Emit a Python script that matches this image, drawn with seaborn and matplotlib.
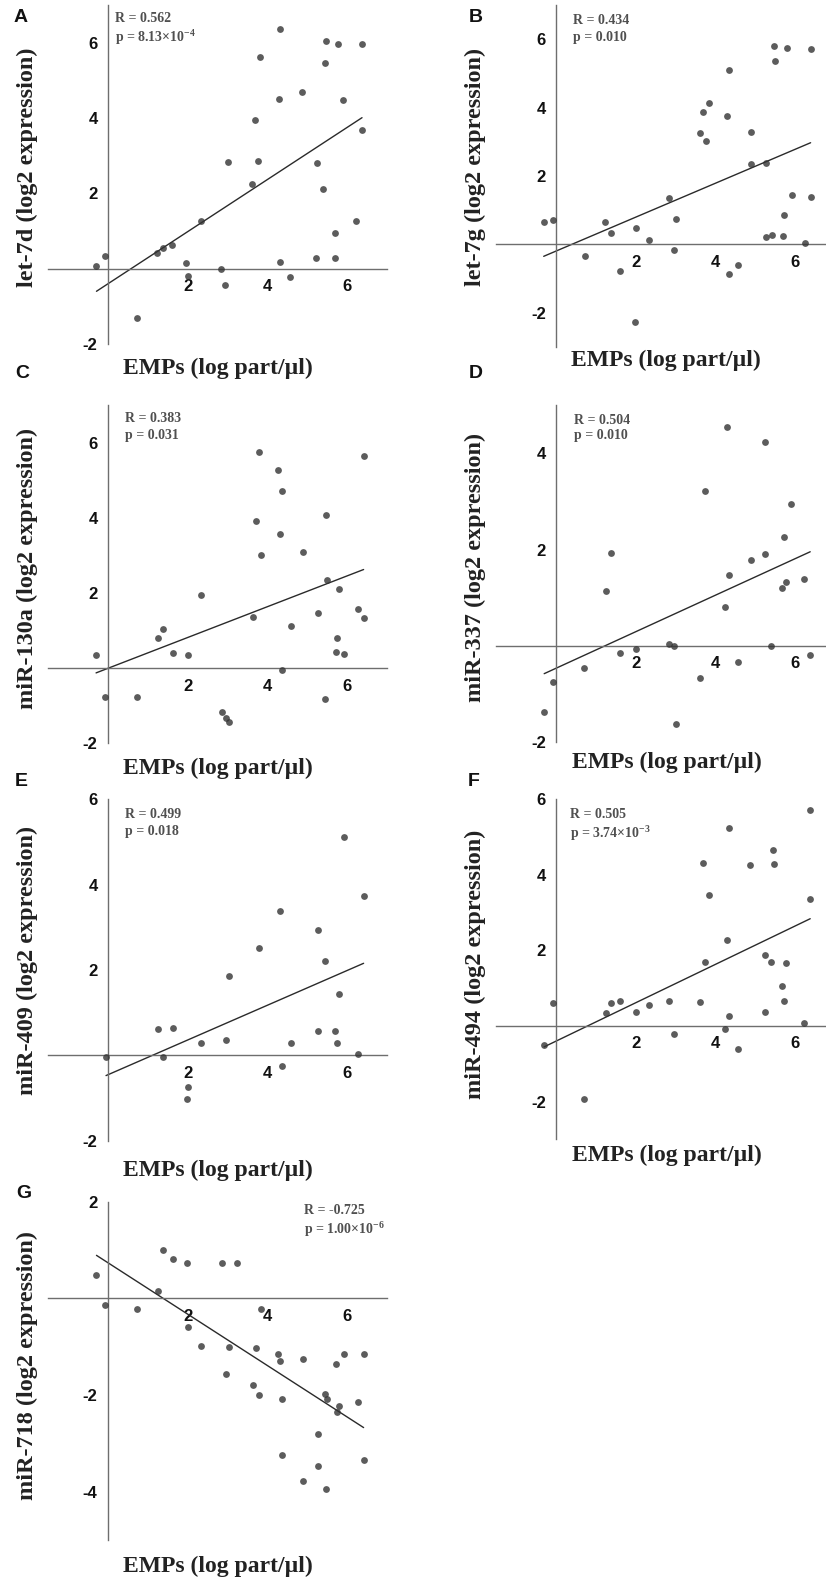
import numpy as np
import pandas as pd
import matplotlib.pyplot as plt
import seaborn as sns

# Use 'Agg' backend, no display available
plt.switch_backend('Agg')

# ---- data (x = EMPs log part/ul, y = log2 expression) ----
a_x = [-0.29, -0.08, 0.72, 1.23, 1.38, 1.61, 1.97, 2.00, 2.33, 2.83, 2.94, 3.02, 3.61, 3.69, 3.76, 3.83, 4.30,
       4.33, 4.33, 4.57, 4.88, 5.23, 5.25, 5.41, 5.45, 5.48, 5.69, 5.71, 5.77, 5.90, 6.23, 6.38, 6.38]
a_y = [0.07, 0.33, -1.32, 0.42, 0.55, 0.63, 0.15, -0.20, 1.26, 0.00, -0.44, 2.84, 2.26, 3.95, 2.85, 5.63, 4.50,
       6.35, 0.19, -0.22, 4.68, 0.28, 2.81, 2.12, 5.45, 6.04, 0.28, 0.96, 5.96, 4.48, 1.26, 5.96, 3.67]

b_x = [-0.31, -0.08, 0.72, 1.23, 1.39, 1.61, 1.97, 2.01, 2.33, 2.84, 2.95, 3.01, 3.62, 3.69, 3.77, 3.83, 4.30,
       4.35, 4.35, 4.58, 4.90, 4.90, 5.26, 5.27, 5.42, 5.46, 5.49, 5.69, 5.72, 5.79, 5.92, 6.26, 6.39, 6.39]
b_y = [0.66, 0.70, -0.36, 0.66, 0.34, -0.77, -2.27, 0.46, 0.12, 1.35, -0.18, 0.73, 3.24, 3.87, 3.01, 4.13, 3.76,
       5.11, -0.86, -0.60, 3.27, 2.36, 0.21, 2.39, 0.28, 5.80, 5.37, 0.25, 0.85, 5.73, 1.43, 0.03, 1.39, 5.71]

c_x = [-0.30, -0.07, 0.72, 1.25, 1.39, 1.62, 2.02, 2.34, 2.86, 2.97, 3.03, 3.63, 3.71, 3.78, 3.85, 4.28, 4.32,
       4.36, 4.37, 4.59, 4.90, 5.28, 5.45, 5.48, 5.51, 5.72, 5.74, 5.80, 5.93, 6.28, 6.42, 6.42]
c_y = [0.36, -0.76, -0.78, 0.79, 1.03, 0.40, 0.34, 1.94, -1.18, -1.34, -1.44, 1.37, 3.92, 5.75, 3.02, 5.28, 3.57,
       4.70, -0.04, 1.11, 3.09, 1.47, -0.81, 4.07, 2.34, 0.43, 0.80, 2.11, 0.38, 1.58, 5.64, 1.33]

d_x = [-0.30, -0.07, 0.71, 1.24, 1.39, 1.61, 2.01, 2.84, 2.95, 3.01, 3.61, 3.75, 4.25, 4.30, 4.33, 4.56, 4.89,
       5.24, 5.25, 5.40, 5.68, 5.71, 5.78, 5.90, 6.23, 6.38]
d_y = [-1.38, -0.74, -0.45, 1.14, 1.92, -0.14, -0.06, 0.03, -0.01, -1.62, -0.67, 3.21, 0.81, 4.55, 1.48, -0.33,
       1.79, 1.90, 4.23, 0.00, 1.21, 2.26, 1.32, 2.94, 1.38, -0.18]

e_x = [-0.05, 1.25, 1.39, 1.62, 1.98, 2.01, 2.34, 2.96, 3.03, 3.78, 4.32, 4.37, 4.59, 5.27, 5.28, 5.44, 5.71,
       5.74, 5.80, 5.93, 6.28, 6.42]
e_y = [-0.04, 0.61, -0.04, 0.63, -1.02, -0.73, 0.29, 0.37, 1.87, 2.52, 3.38, -0.25, 0.30, 0.57, 2.93, 2.20, 0.57,
       0.30, 1.44, 5.11, 0.02, 3.74]

f_x = [-0.30, -0.07, 0.71, 1.24, 1.39, 1.61, 2.01, 2.33, 2.83, 2.95, 3.61, 3.68, 3.75, 3.83, 4.29, 4.25, 4.34,
       4.34, 4.56, 4.87, 5.24, 5.25, 5.40, 5.44, 5.47, 5.68, 5.72, 5.77, 6.23, 6.38, 6.38]
f_y = [-0.51, 0.62, -1.94, 0.35, 0.61, 0.67, 0.37, 0.56, 0.65, -0.21, 0.64, 4.31, 1.70, 3.47, 2.27, -0.07, 5.25,
       0.27, -0.62, 4.27, 0.36, 1.89, 1.70, 4.65, 4.29, 1.05, 0.67, 1.68, 0.07, 5.71, 3.37]

g_x = [-0.29, -0.07, 0.72, 1.25, 1.39, 1.62, 1.98, 2.02, 2.34, 2.86, 2.96, 3.03, 3.23, 3.63, 3.71, 3.78, 3.85,
       4.28, 4.32, 4.36, 4.37, 4.90, 4.90, 5.27, 5.28, 5.44, 5.48, 5.51, 5.72, 5.74, 5.80, 5.93, 6.28, 6.42, 6.42]
g_y = [0.48, -0.13, -0.22, 0.16, 1.00, 0.82, 0.74, -0.60, -0.99, 0.74, -1.56, -1.00, 0.74, -1.79, -1.03, -2.01,
       -0.21, -1.15, -1.29, -2.08, -3.25, -1.25, -3.78, -2.80, -3.46, -1.97, -3.94, -2.08, -1.35, -2.35, -2.23,
       -1.15, -2.15, -1.15, -3.35]

panel_letters = ['A', 'B', 'C', 'D', 'E', 'F', 'G']
ylabels = ['let-7d (log2 expression)', 'let-7g (log2 expression)', 'miR-130a (log2 expression)',
           'miR-337 (log2 expression)', 'miR-409 (log2 expression)', 'miR-494 (log2 expression)',
           'miR-718 (log2 expression)']
r_text = ['R = 0.562', 'R = 0.434', 'R = 0.383', 'R = 0.504', 'R = 0.499', 'R = 0.505', 'R = -0.725']
p_text = ['p = 8.13×10$^{-4}$', 'p = 0.010', 'p = 0.031', 'p = 0.010', 'p = 0.018',
          'p = 3.74×10$^{-3}$', 'p = 1.00×10$^{-6}$']
y_limits = [(-2, 7), (-3, 7), (-2, 7), (-2, 5), (-2, 6), (-3, 6), (-5, 2)]
y_ticks = [[-2, 2, 4, 6], [-2, 2, 4, 6], [-2, 2, 4, 6], [-2, 2, 4], [-2, 2, 4, 6], [-2, 2, 4, 6], [-4, -2, 2]]
x_ticks = [2, 4, 6]
xlabel = 'EMPs (log part/\u00b5l)'

xs = [a_x, b_x, c_x, d_x, e_x, f_x, g_x]
ys = [a_y, b_y, c_y, d_y, e_y, f_y, g_y]

# ---- layout, in pixels of the 826x1581 output ----
W, H = 826, 1581
# axes boxes: left, top, right, bottom
boxes = [(48.3, 5, 386.7, 344), (496.3, 5, 834.9, 346.7),
         (48.3, 405, 386.7, 743.3), (496.4, 405, 834.9, 742.3),
         (48.3, 799.3, 386.7, 1140.7), (496.4, 799.3, 834.9, 1139.3),
         (48.3, 1201.7, 386.7, 1540)]
letter_pos = [(21, 18), (476, 17), (22, 373), (476, 373), (21, 782), (474, 781), (24, 1193)]
xlabel_pos = [(218, 368), (666, 360), (218, 768), (667, 762), (218, 1170), (667, 1155), (218, 1566)]
ylabel_pos = [(27, 167), (475, 167), (27, 568), (475, 567), (27, 960), (475, 964), (27, 1365)]
stat_pos = [(115, 19), (573, 21), (125, 419), (574, 420), (125, 814), (570, 814), (304, 1210)]
stat_gap = [19, 17, 16, 15, 18, 20, 20]

sns.set_style('white')
plt.rcParams['mathtext.default'] = 'regular'
plt.rcParams['axes.unicode_minus'] = False

DOT = '#333333'
LINE = '#2a2a2a'
AXIS = '#6e6e6e'
STAT = '#505050'
SERIF = ['Liberation Serif', 'DejaVu Serif']
SANS = ['Liberation Sans', 'DejaVu Sans']

fig = plt.figure(figsize=(W / 100, H / 100), dpi=100)


def fx(px):
    return px / W


def fy(py):
    return 1 - py / H


for i in range(7):
    l, t, r, b = boxes[i]
    ax = fig.add_axes([fx(l), fy(b), (r - l) / W, (b - t) / H])
    df = pd.DataFrame({'emp': xs[i], 'expr': ys[i]})
    sns.regplot(data=df, x='emp', y='expr', ax=ax, ci=None, truncate=True,
                scatter_kws=dict(s=24, color=DOT, linewidths=0, zorder=3),
                line_kws=dict(color=LINE, lw=1.0, zorder=2))
    ax.set_xlim(-1.5, 7)
    ax.set_ylim(*y_limits[i])
    ax.set_facecolor('none')
    ax.spines['left'].set_position(('data', 0))
    ax.spines['bottom'].set_position(('data', 0))
    ax.spines['top'].set_visible(False)
    ax.spines['right'].set_visible(False)
    for s in ['left', 'bottom']:
        ax.spines[s].set_color(AXIS)
        ax.spines[s].set_linewidth(1.0)
    ax.set_xticks(x_ticks)
    ax.set_yticks(y_ticks[i])
    ax.tick_params(direction='out', length=3.5, width=0.9, color=AXIS, labelsize=12,
                   labelcolor='#111111')
    ax.tick_params(axis='x', pad=4)
    ax.tick_params(axis='y', pad=4)
    for lab in ax.get_xticklabels() + ax.get_yticklabels():
        lab.set_fontweight('bold')
        lab.set_family(SANS)
    ax.set_xlabel('')
    ax.set_ylabel('')

    # correlation stats
    sx, sy = stat_pos[i]
    fig.text(fx(sx), fy(sy), r_text[i], ha='left', va='center', fontsize=10, fontweight='bold',
             family=SERIF, color=STAT)
    fig.text(fx(sx), fy(sy + stat_gap[i]), p_text[i], ha='left', va='center', fontsize=10,
             fontweight='bold', family=SERIF, color=STAT)

    # panel letter and axis titles
    lx, ly = letter_pos[i]
    fig.text(fx(lx), fy(ly), panel_letters[i], ha='center', va='center', fontsize=14,
             fontweight='bold', family=SANS, color='#111111')
    xx, xy = xlabel_pos[i]
    fig.text(fx(xx), fy(xy), xlabel, ha='center', va='center', fontsize=17, fontweight='bold',
             family=SERIF, color='#222222')
    yx, yy = ylabel_pos[i]
    fig.text(fx(yx), fy(yy), ylabels[i], ha='center', va='center', rotation=90, fontsize=17.5,
             fontweight='bold', family=SERIF, color='#222222')

fig.savefig('out.png', dpi=100)
plt.close('all')
